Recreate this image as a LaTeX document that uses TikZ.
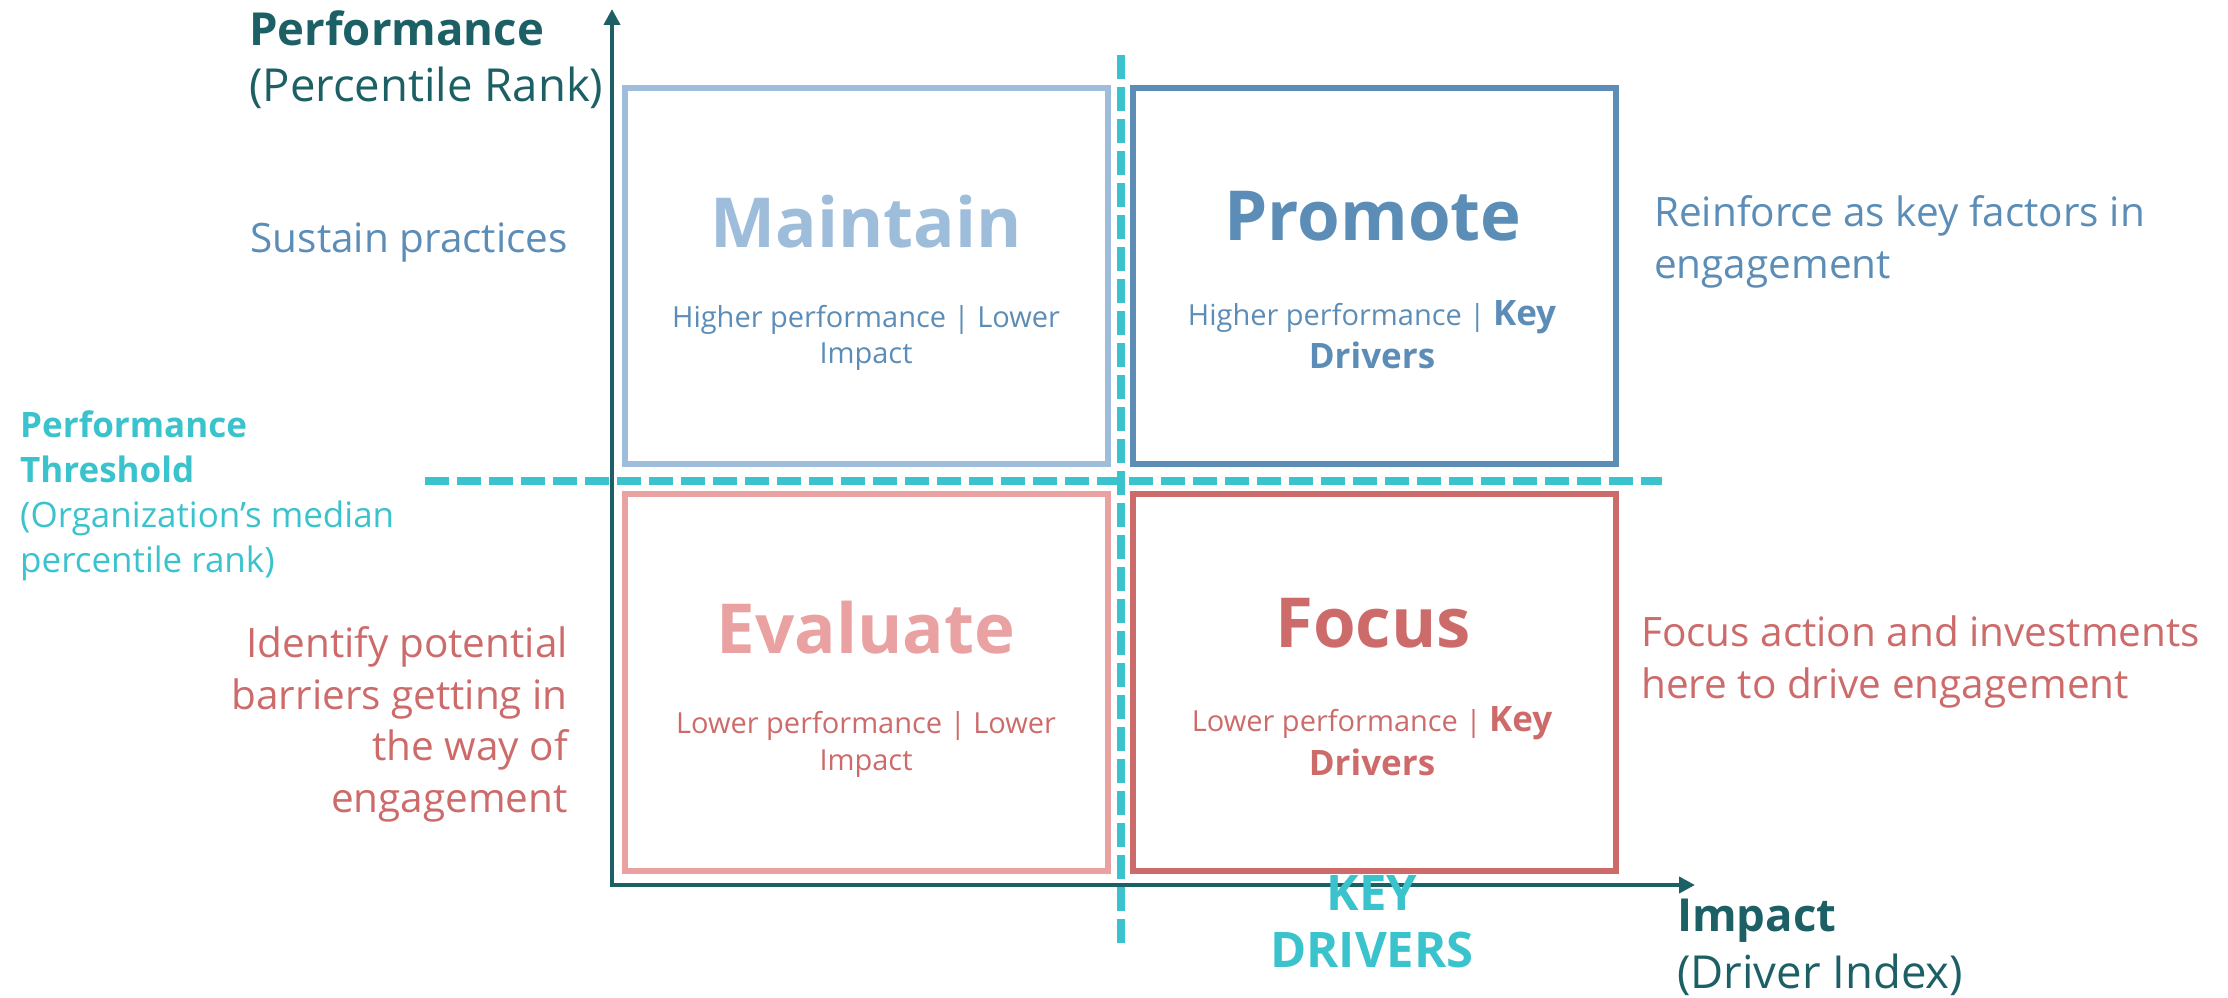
\documentclass[tikz,border=0pt]{standalone}
\usepackage{fontspec}
\setmainfont{Open Sans}
\usetikzlibrary{arrows.meta}

\definecolor{axisteal}{HTML}{1C6066}
\definecolor{threshcyan}{HTML}{3AC3CD}
\definecolor{paleblue}{HTML}{9DBDDA}
\definecolor{steelblue}{HTML}{5B8DB7}
\definecolor{palered}{HTML}{E9A2A1}
\definecolor{deepred}{HTML}{CD6B6A}

\newcommand\setsize[2]{\fontsize{#1}{#2}\selectfont}

\tikzset{
  quad/.style={draw=#1, line width=6pt, minimum width=483pt, inner sep=0pt},
  heading/.style={text=#1, anchor=base, inner sep=0pt, font=\setsize{69}{80}\bfseries},
  subtext/.style={text=#1, anchor=base, inner sep=0pt, align=center},
  sidetext/.style={text=#1, inner sep=0pt, font=\setsize{40.5}{51.5}},
  axisline/.style={draw=axisteal, line width=4pt, -{Triangle[length=16pt,width=16pt]}},
  threshline/.style={draw=threshcyan, line width=8pt, dash pattern=on 24pt off 8pt},
  axislabel/.style={text=axisteal, inner sep=0pt, anchor=base west, align=left, font=\setsize{45.5}{57}},
}

\begin{document}
\begin{tikzpicture}[x=1pt, y=-1pt]
\useasboundingbox (0,0) rectangle (2228,998);

% quadrant frames
\node[quad=paleblue,  minimum height=376pt] (maintain) at (866.5,276) {};
\node[quad=steelblue, minimum height=376pt] (promote)  at (1374.5,276) {};
\node[quad=palered,   minimum height=377pt] (evaluate) at (866.5,682.5) {};
\node[quad=deepred,   minimum height=377pt] (focus)    at (1374.5,682.5) {};

% axes
\coordinate (ybase) at (612,887);
\coordinate (ytop) at (612,9);
\coordinate (xbase) at (610,885);
\coordinate (xend) at (1695,885);
\draw[axisline] (ybase) -- (ytop);
\draw[axisline] (xbase) -- (xend);

% threshold lines
\coordinate (hstart) at (425,481);
\coordinate (hend) at (1662,481);
\coordinate (vstart) at (1121,55);
\coordinate (vend) at (1121,943);
\draw[threshline] (hstart) -- (hend);
\draw[threshline] (vstart) -- (vend);

% quadrant titles
\node[heading=paleblue]  (tmaintain) at (866,247) {Maintain};
\node[heading=steelblue] (tpromote)  at (1373,240) {Promote};
\node[heading=palered]   (tevaluate) at (866,653) {Evaluate};
\node[heading=deepred]   (tfocus)    at (1373,647) {Focus};

% quadrant descriptions (anchored on the baseline of their last line)
\node[subtext=steelblue, font=\setsize{29}{36}] (dmaintain) at (866,363)
  {Higher performance | Lower\\Impact};
\node[subtext=steelblue, font=\setsize{29}{43}] (dpromote) at (1372,368)
  {Higher performance | {\bfseries\setsize{35}{43}Key}\\{\bfseries\setsize{35}{43}Drivers}};
\node[subtext=deepred, font=\setsize{29}{37}] (devaluate) at (866,770)
  {Lower performance | Lower\\Impact};
\node[subtext=deepred, font=\setsize{29}{44}] (dfocus) at (1372,775)
  {Lower performance | {\bfseries\setsize{35}{44}Key}\\{\bfseries\setsize{35}{44}Drivers}};

% recommended actions
\node[sidetext=steelblue, anchor=base east] (asustain) at (568,252) {Sustain practices};
\node[sidetext=steelblue, anchor=base west, align=left] (areinforce) at (1654,278)
  {Reinforce as key factors in\\engagement};
\node[sidetext=deepred, anchor=base east, align=right] (aidentify) at (568,812)
  {Identify potential\\barriers getting in\\the way of\\engagement};
\node[sidetext=deepred, anchor=base west, align=left] (afocus) at (1641,698)
  {Focus action and investments\\here to drive engagement};

% axis titles
\node[axislabel] (ylabel) at (249,102) {{\bfseries Performance}\\(Percentile Rank)};
\node[axislabel] (xlabel) at (1677,988) {{\bfseries Impact}\\(Driver Index)};

% threshold captions
\node[text=threshcyan, inner sep=0pt, anchor=base west, align=left, font=\setsize{35}{44.7}]
  (threshold) at (20,572)
  {{\bfseries Performance}\\{\bfseries Threshold}\\(Organization’s median\\percentile rank)};
\node[text=threshcyan, inner sep=0pt, anchor=base, align=center, font=\setsize{49}{57}\bfseries]
  (keydrivers) at (1372,967) {KEY\\DRIVERS};
\end{tikzpicture}
\end{document}
